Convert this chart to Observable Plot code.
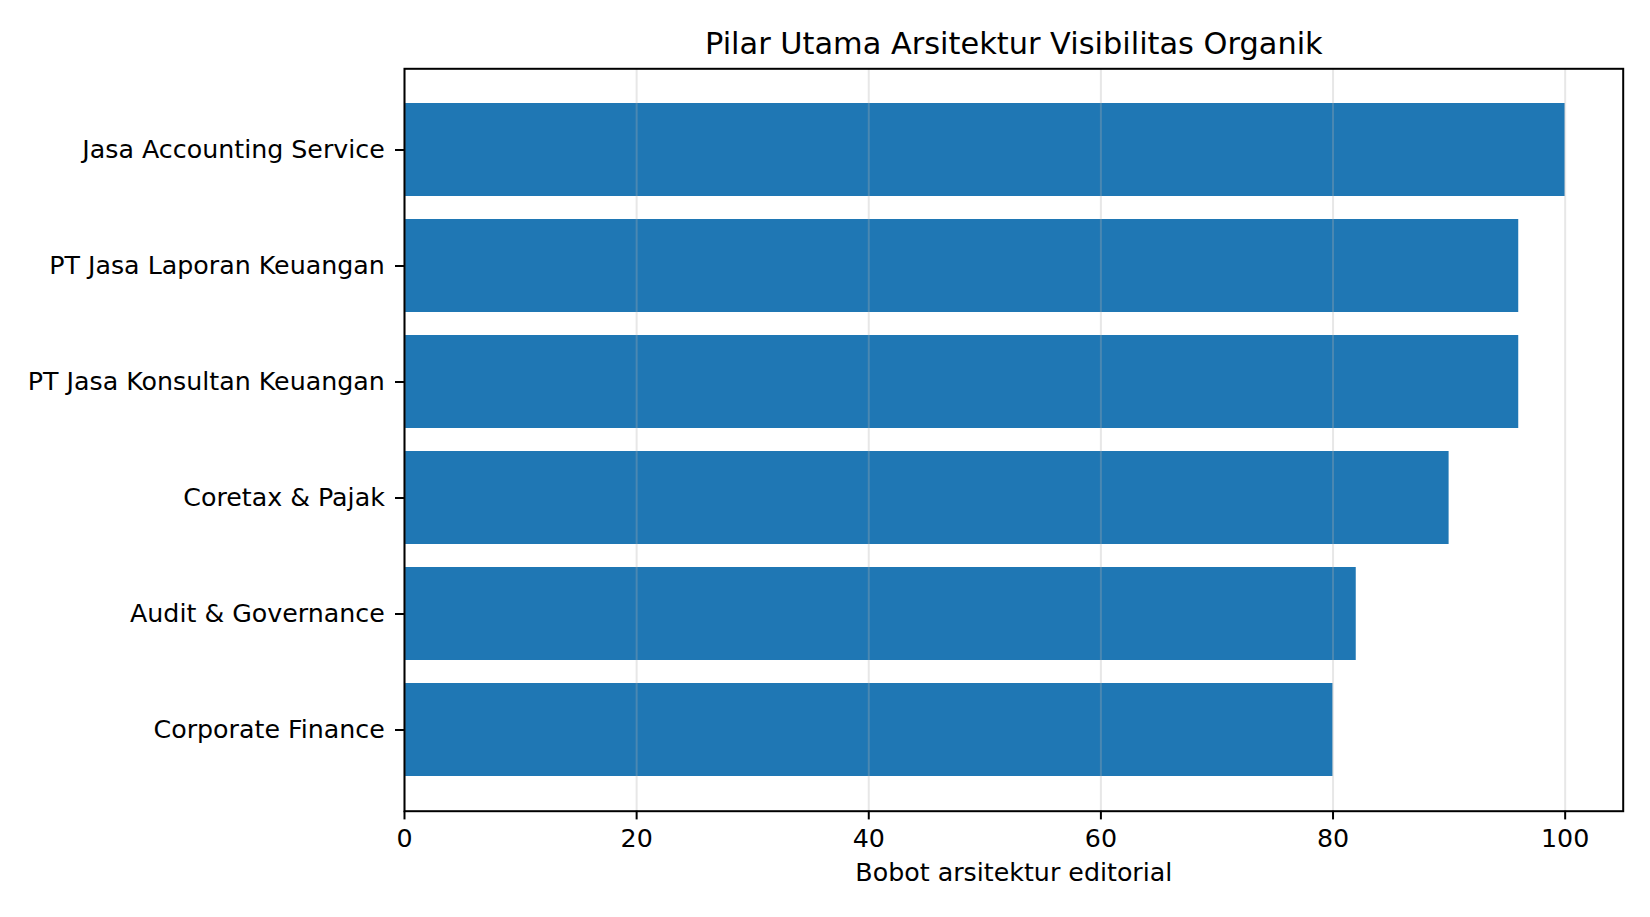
<!DOCTYPE html>
<html>
<head>
<meta charset="utf-8">
<script src="https://cdn.jsdelivr.net/npm/d3@7"></script>
<script src="https://cdn.jsdelivr.net/npm/@observablehq/plot@0.6"></script>
<style>
  html, body { margin: 0; padding: 0; background: #fff; }
  #chart svg { display: block; }
</style>
</head>
<body>
<div id="chart"></div>
<script>
const categories = [
  "Jasa Accounting Service",
  "PT Jasa Laporan Keuangan",
  "PT Jasa Konsultan Keuangan",
  "Coretax & Pajak",
  "Audit & Governance",
  "Corporate Finance"
];
const values = [100, 96, 96, 90, 82, 80];
const xTicks = [0, 20, 40, 60, 80, 100];
const title = "Pilar Utama Arsitektur Visibilitas Organik";
const xLabel = "Bobot arsitektur editorial";

const data = categories.map((c, i) => ({category: c, value: values[i]}));

const chart = Plot.plot({
  width: 1650,
  height: 917,
  marginLeft: 404,
  marginRight: 27.3,
  marginTop: 68.3,
  marginBottom: 106.3,
  style: {fontFamily: "DejaVu Sans", fontSize: "25.3px", color: "black", background: "white"},
  x: {domain: [0, 105], axis: null},
  y: {type: "band", domain: categories, paddingInner: 0.2, paddingOuter: 0.29, axis: null},
  marks: [
    Plot.barX(data, {x: "value", y: "category", fill: "#1f77b4"}),
    Plot.ruleX(xTicks, {x: d => d, stroke: "#b0b0b0", strokeOpacity: 0.3, strokeWidth: 2}),
    Plot.frame({stroke: "black", strokeWidth: 2}),
    Plot.axisX({ticks: xTicks, tickSize: 8.7, tickPadding: 9.6, strokeWidth: 2, fontSize: 25.3, fill: "black", stroke: "black", label: null, tickFormat: d => String(d)}),
    Plot.axisY({tickSize: 9, tickPadding: 10.7, strokeWidth: 2, fontSize: 25.3, fill: "black", stroke: "black", label: null}),
    Plot.text([title], {frameAnchor: "top", text: d => d, textAnchor: "middle", lineAnchor: "bottom", dy: -15, fontSize: 30.4, fill: "black"}),
    Plot.text([xLabel], {frameAnchor: "bottom", text: d => d, textAnchor: "middle", lineAnchor: "bottom", dy: 70, fontSize: 25.3, fill: "black"})
  ]
});
document.getElementById("chart").appendChild(chart);
</script>
</body>
</html>
